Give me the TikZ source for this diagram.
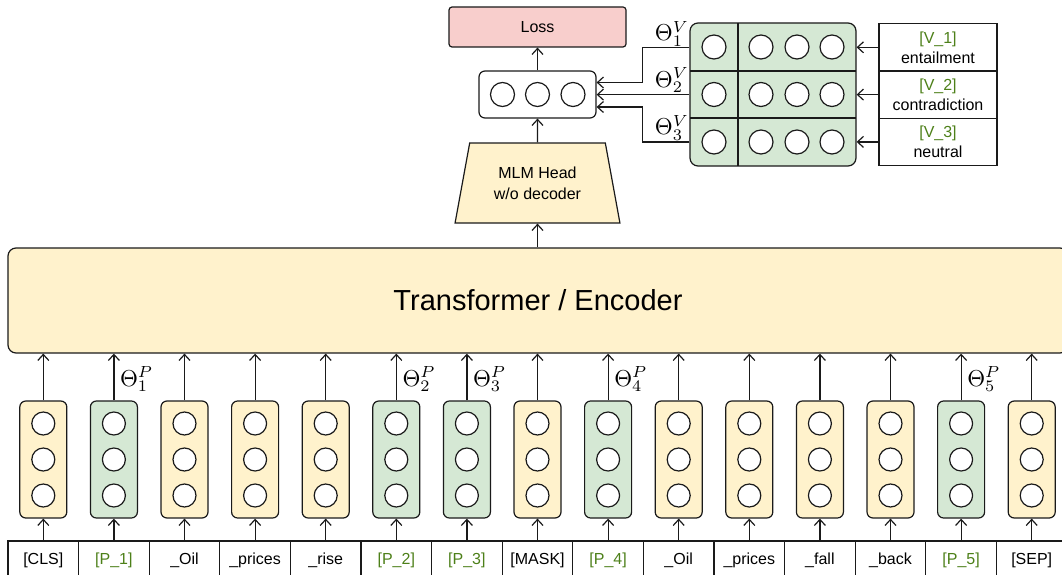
\documentclass[tikz,border=0pt]{standalone}
\usepackage{fontspec}
\usepackage{graphicx}
\setmainfont{Liberation Sans}
\usetikzlibrary{arrows.meta,shapes.geometric,calc}
\definecolor{ylw}{HTML}{FFF2CC}
\definecolor{grn}{HTML}{D5E8D4}
\definecolor{pnk}{HTML}{F8CECC}
\definecolor{gtxt}{RGB}{77,128,25}
\definecolor{lc}{HTML}{1A1A1A}
\newcommand{\bigth}[1]{\scalebox{2.3}{$#1$}}
\tikzset{
  ln/.style={line width=1.2pt, draw=lc},
  arr/.style={ln, -{Straight Barb[length=6pt,width=11pt]}},
  colbox/.style={ln, rounded corners=6pt, minimum width=47pt, minimum height=117pt, inner sep=0pt},
  dot/.style={circle, ln, fill=white, minimum size=23pt, inner sep=0pt},
  tok/.style={ln, minimum width=70.6pt, minimum height=38pt, inner sep=0pt, font=\fontsize{16}{19}\selectfont},
  th/.style={inner sep=0pt},
  lbl/.style={ln, minimum width=118pt, minimum height=47.3pt, inner sep=0pt, align=center, font=\fontsize{16}{20}\selectfont},
}
\begin{document}
\begin{tikzpicture}[x=1pt, y=-1pt]
\useasboundingbox (0,0) rectangle (1062,575);

% Transformer
\node[ln, fill=ylw, rounded corners=8pt, minimum width=1060pt, minimum height=105pt, inner sep=0pt,
      font=\fontsize{29}{34}\selectfont] (T) at (538,300.5) {Transformer / Encoder};

% tokens and columns
\foreach \t/\c/\f [count=\i from 0] in {
  [CLS]/black/ylw, [P\_1]/gtxt/grn, \_Oil/black/ylw, \_prices/black/ylw, \_rise/black/ylw,
  [P\_2]/gtxt/grn, [P\_3]/gtxt/grn, [MASK]/black/ylw, [P\_4]/gtxt/grn, \_Oil/black/ylw,
  \_prices/black/ylw, \_fall/black/ylw, \_back/black/ylw, [P\_5]/gtxt/grn, [SEP]/black/ylw} {
  \pgfmathsetmacro\xx{43.3+70.6*\i}
  \node[tok, text=\c] (t\i) at (\xx,560) {\t};
  \node[colbox, fill=\f] (c\i) at (\xx,459.5) {};
  \node[dot] (c\i a) at (\xx,423.5) {};
  \node[dot] (c\i b) at (\xx,459.5) {};
  \node[dot] (c\i c) at (\xx,495.5) {};
  \draw[arr] (t\i.north) -- (c\i.south);
  \draw[arr] (c\i.north) -- (c\i.north |- T.south);
}

% prompt theta labels
\foreach \i/\k in {1/1, 5/2, 6/3, 8/4, 13/5} {
  \node[th, anchor=west] (thp\k) at ($(c\i.north)+(6,-21)$) {\bigth{\Theta^P_{\k}}};
}

% MLM head
\node[trapezium, ln, fill=ylw, trapezium stretches=true, minimum width=165pt, minimum height=80pt,
      trapezium left angle=74, trapezium right angle=74, inner sep=0pt, align=center,
      font=\fontsize{16}{21}\selectfont] (H) at (537.5,183) {MLM Head\\w/o decoder};
\draw[arr] (H.south |- T.north) -- (H.south);

% output vector
\node[ln, fill=white, rounded corners=6pt, minimum width=117pt, minimum height=47pt, inner sep=0pt] (O) at (537.5,94.5) {};
\node[dot, minimum size=24pt] (o1) at ($(O.center)+(-35,0)$) {};
\node[dot, minimum size=24pt] (o2) at (O.center) {};
\node[dot, minimum size=24pt] (o3) at ($(O.center)+(35.5,0)$) {};
\draw[arr] (H.north) -- (O.south);

% Loss
\node[ln, fill=pnk, rounded corners=3pt, minimum width=177pt, minimum height=40pt, inner sep=0pt,
      font=\fontsize{16}{19}\selectfont] (L) at (537.5,27) {Loss};
\draw[arr] (O.north) -- (L.south);

% verbalizer matrix
\node[ln, fill=grn, rounded corners=8pt, minimum width=166pt, minimum height=143pt, inner sep=0pt] (M) at (773,94.5) {};
\draw[ln] (690,71) -- (856,71);
\draw[ln] (690,118) -- (856,118);
\draw[ln] (738,23) -- (738,166);
\foreach \yy [count=\r] in {47,94.5,142} {
  \foreach \xx [count=\s] in {714,761,797,832} {
    \node[dot, minimum size=24pt] (m\r\s) at (\xx,\yy) {};
  }
}

% label words
\node[lbl] (V1) at (938,47.3) {\textcolor{gtxt}{[V\_1]}\\entailment};
\node[lbl] (V2) at (938,94.6) {\textcolor{gtxt}{[V\_2]}\\contradiction};
\node[lbl] (V3) at (938,141.9) {\textcolor{gtxt}{[V\_3]}\\neutral};
\draw[arr] (V1.west) -- (V1.west -| M.east);
\draw[arr] (V2.west) -- (V2.west -| M.east);
\draw[arr] (V3.west) -- (V3.west -| M.east);

% matrix to output
\draw[arr] (V1 -| M.west) -- ++(-47,0) |- ($(O.east)+(0,-12)$);
\draw[arr] (V2 -| M.west) -- (V2 -| O.east);
\draw[arr] (V3 -| M.west) -- ++(-47,0) |- ($(O.east)+(0,12.5)$);

% verbalizer theta labels
\node[th, anchor=south east] (thv1) at (689,46.5) {\bigth{\Theta^V_1}};
\node[th, anchor=south east] (thv2) at (689,93) {\bigth{\Theta^V_2}};
\node[th, anchor=south east] (thv3) at (689,140.5) {\bigth{\Theta^V_3}};
\end{tikzpicture}
\end{document}
